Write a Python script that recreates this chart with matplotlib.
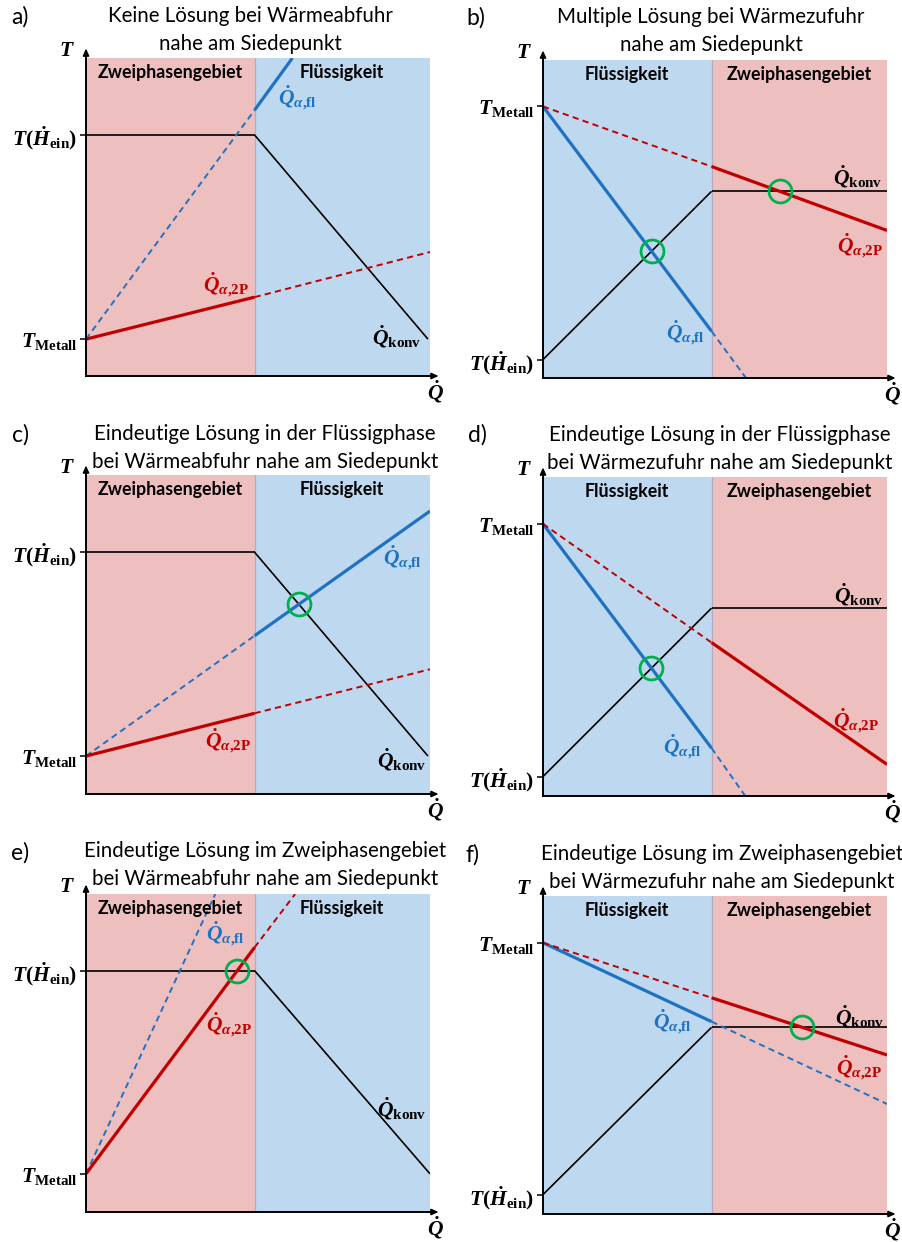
import matplotlib
matplotlib.use("Agg")
import matplotlib.pyplot as plt
import numpy as np

plt.rcParams["mathtext.fontset"] = "custom"
plt.rcParams["mathtext.it"] = "Liberation Serif:italic:bold"
plt.rcParams["mathtext.rm"] = "Liberation Serif:bold"
plt.rcParams["mathtext.bf"] = "Liberation Serif:bold"

W, H = 903, 1242

RED_BG = "#edbfbf"
BLUE_BG = "#bed8ef"
RED = "#c00000"
BLUE = "#1f72c2"
GREEN = "#00b050"

TITLES = [
    "Keine Lösung bei Wärmeabfuhr\nnahe am Siedepunkt",
    "Multiple Lösung bei Wärmezufuhr\nnahe am Siedepunkt",
    "Eindeutige Lösung in der Flüssigphase\nbei Wärmeabfuhr nahe am Siedepunkt",
    "Eindeutige Lösung in der Flüssigphase\nbei Wärmezufuhr nahe am Siedepunkt",
    "Eindeutige Lösung im Zweiphasengebiet\nbei Wärmeabfuhr nahe am Siedepunkt",
    "Eindeutige Lösung im Zweiphasengebiet\nbei Wärmezufuhr nahe am Siedepunkt",
]
LETTERS = ["a)", "b)", "c)", "d)", "e)", "f)"]
# True: two-phase region on the left (heat removal), else liquid on the left
TWO_PHASE_LEFT = [True, False, True, False, True, False]

# normalised Q (x) and T (y) values per panel
SPLIT = [0.49, 0.49, 0.49, 0.49, 0.49, 0.49]
T_METALL = [0.116, 0.854, 0.119, 0.853, 0.120, 0.853]
T_HEIN = [0.758, 0.058, 0.758, 0.061, 0.759, 0.061]

KONV_Q = [[0, 0.49, 0.994], [0, 0.49, 1.0], [0, 0.49, 0.994],
          [0, 0.49, 1.0], [0, 0.49, 1.0], [0, 0.49, 1.0]]
KONV_T = [[0.758, 0.758, 0.116], [0.058, 0.587, 0.587], [0.758, 0.758, 0.119],
          [0.061, 0.589, 0.589], [0.759, 0.759, 0.120], [0.061, 0.587, 0.587]]

FL_Q = [[0, 0.49, 0.60], [0, 0.49, 0.59], [0, 0.49, 1.0],
        [0, 0.49, 0.588], [0, 0.376], [0, 0.49, 1.0]]
FL_T = [[0.116, 0.836, 1.0], [0.854, 0.147, 0.0], [0.119, 0.496, 0.887],
        [0.853, 0.150, 0.0], [0.120, 1.0], [0.853, 0.605, 0.346]]
FL_DASHED = [[True, False], [False, True], [True, False],
             [False, True], [True], [False, True]]

TP_Q = [[0, 0.49, 1.0], [0, 0.49, 1.0], [0, 0.49, 1.0],
        [0, 0.49, 1.0], [0, 0.49, 0.608], [0, 0.49, 1.0]]
TP_T = [[0.116, 0.248, 0.390], [0.854, 0.665, 0.464], [0.119, 0.253, 0.391],
        [0.853, 0.481, 0.099], [0.120, 0.832, 1.0], [0.853, 0.680, 0.500]]
TP_DASHED = [[False, True], [True, False], [False, True],
             [True, False], [False, True], [True, False]]

# which curve meets Q_konv in a marked operating point
SOLUTIONS = [[], ["fl", "2p"], ["fl"], ["fl"], ["2p"], ["2p"]]

# axes boxes in pixels: left, top, width, height
BOXES = [(86, 58, 344, 318), (543, 60, 344, 318), (86, 475, 344, 319),
         (543, 477, 344, 319), (86, 894, 344, 318), (543, 896, 344, 318)]
TITLE_POS = [(250, 30), (711, 31), (265, 448), (720, 449), (265, 865), (722, 868)]
LETTER_POS = [(11, 17), (466, 18), (12, 435), (468, 435), (11, 853), (466, 855)]

# curve label anchors in axes units
LBL_FL = [(0.558, 0.877, "left"), (0.471, 0.142, "right"), (0.977, 0.74, "right"),
          (0.462, 0.154, "right"), (0.462, 0.877, "right"), (0.433, 0.604, "right")]
LBL_TP = [(0.473, 0.286), (0.99, 0.418), (0.479, 0.169),
          (0.976, 0.238), (0.482, 0.588), (0.987, 0.459)]
LBL_KONV = [(0.976, 0.123), (0.987, 0.632), (0.99, 0.107),
            (0.99, 0.63), (0.99, 0.324), (0.993, 0.62)]

SANS = "Lato"
MATH_SIZE = 15.5

LBL_FL_TEXT = r"$\dot{Q}_{\alpha{,}\mathrm{fl}}$"
LBL_TP_TEXT = r"$\dot{Q}_{\alpha{,}\mathrm{2P}}$"
LBL_KONV_TEXT = r"$\dot{Q}_{\mathrm{konv}}$"


def crossing(q1, t1, q2, t2):
    for i in range(len(q1) - 1):
        p = np.array([q1[i], t1[i]])
        r = np.array([q1[i + 1] - q1[i], t1[i + 1] - t1[i]])
        for j in range(len(q2) - 1):
            s0 = np.array([q2[j], t2[j]])
            s = np.array([q2[j + 1] - q2[j], t2[j + 1] - t2[j]])
            den = r[0] * s[1] - r[1] * s[0]
            if abs(den) < 1e-12:
                continue
            d = s0 - p
            u = (d[0] * s[1] - d[1] * s[0]) / den
            v = (d[0] * r[1] - d[1] * r[0]) / den
            if 0 <= u <= 1 and 0 <= v <= 1:
                return p + u * r
    return None


def draw_curve(ax, q, t, dashed, color, lw=2.3):
    for k, is_dashed in enumerate(dashed):
        if is_dashed:
            ax.plot(q[k:k + 2], t[k:k + 2], color=color, lw=1.4,
                    dashes=(3.2, 2.2), solid_capstyle="butt")
        else:
            ax.plot(q[k:k + 2], t[k:k + 2], color=color, lw=lw,
                    solid_capstyle="butt")


fig = plt.figure(figsize=(W / 100, H / 100), dpi=100)

for i in range(6):
    left, top, w, h = BOXES[i]
    ax = fig.add_axes([left / W, 1 - (top + h) / H, w / W, h / H])
    ax.set_xlim(0, 1)
    ax.set_ylim(0, 1)
    split = SPLIT[i]

    left_bg, right_bg = (RED_BG, BLUE_BG) if TWO_PHASE_LEFT[i] else (BLUE_BG, RED_BG)
    left_lbl, right_lbl = (("Zweiphasengebiet", "Flüssigkeit") if TWO_PHASE_LEFT[i]
                           else ("Flüssigkeit", "Zweiphasengebiet"))
    ax.axvspan(0, split, color=left_bg, lw=0, zorder=0)
    ax.axvspan(split, 1, color=right_bg, lw=0, zorder=0)
    ax.axvline(split, color="#b7a9c4", lw=0.9, zorder=0.5)
    ax.text(split / 2, 0.955, left_lbl, ha="center", va="center",
            fontsize=12.8, fontweight="bold", family=SANS)
    ax.text((split + 1) / 2, 0.955, right_lbl, ha="center", va="center",
            fontsize=12.8, fontweight="bold", family=SANS)

    # axes with arrow heads
    for s in ["top", "right"]:
        ax.spines[s].set_visible(False)
    for s in ["left", "bottom"]:
        ax.spines[s].set_linewidth(1.4)
        ax.spines[s].set_zorder(5)
    ax.annotate("", xy=(0, 1.03), xytext=(0, 0.99), xycoords="axes fraction",
                arrowprops=dict(arrowstyle="-|>,head_length=0.4,head_width=0.18",
                                color="black", lw=1.2, shrinkA=0, shrinkB=0))
    ax.annotate("", xy=(1.025, 0), xytext=(0.99, 0), xycoords="axes fraction",
                arrowprops=dict(arrowstyle="-|>,head_length=0.4,head_width=0.18",
                                color="black", lw=1.2, shrinkA=0, shrinkB=0))
    ax.text(-0.055, 1.025, r"$T$", transform=ax.transAxes, ha="center",
            va="center", fontsize=MATH_SIZE)
    ax.text(1.015, -0.05, r"$\dot{Q}$", transform=ax.transAxes, ha="center",
            va="center", fontsize=MATH_SIZE)

    ax.set_xticks([])
    ax.set_yticks([T_METALL[i], T_HEIN[i]])
    ax.set_yticklabels([r"$T_{\mathrm{Metall}}$", r"$T(\dot{H}_{\mathrm{ein}})$"],
                       fontsize=MATH_SIZE)
    ax.tick_params(axis="y", length=4.5, width=1.1, pad=1.5)

    draw_curve(ax, KONV_Q[i], KONV_T[i], [False] * (len(KONV_Q[i]) - 1),
               "black", lw=1.2)
    draw_curve(ax, FL_Q[i], FL_T[i], FL_DASHED[i], BLUE)
    draw_curve(ax, TP_Q[i], TP_T[i], TP_DASHED[i], RED)

    for key in SOLUTIONS[i]:
        q, t = (FL_Q[i], FL_T[i]) if key == "fl" else (TP_Q[i], TP_T[i])
        pt = crossing(q, t, KONV_Q[i], KONV_T[i])
        ax.plot(pt[0], pt[1], "o", ms=16.5, mfc="none", mec=GREEN, mew=2.0, zorder=6)

    x, y, ha = LBL_FL[i]
    ax.text(x, y, LBL_FL_TEXT, color=BLUE, ha=ha, va="center", fontsize=MATH_SIZE)
    x, y = LBL_TP[i]
    ax.text(x, y, LBL_TP_TEXT, color=RED, ha="right", va="center", fontsize=MATH_SIZE)
    x, y = LBL_KONV[i]
    ax.text(x, y, LBL_KONV_TEXT, color="black", ha="right", va="center",
            fontsize=MATH_SIZE)

    tx, ty = TITLE_POS[i]
    fig.text(tx / W, 1 - ty / H, TITLES[i], ha="center", va="center",
             fontsize=14.8, family=SANS, linespacing=1.5)
    lx, ly = LETTER_POS[i]
    fig.text(lx / W, 1 - ly / H, LETTERS[i], ha="left", va="center",
             fontsize=16.5, family=SANS)

fig.savefig("out.png", dpi=100)
